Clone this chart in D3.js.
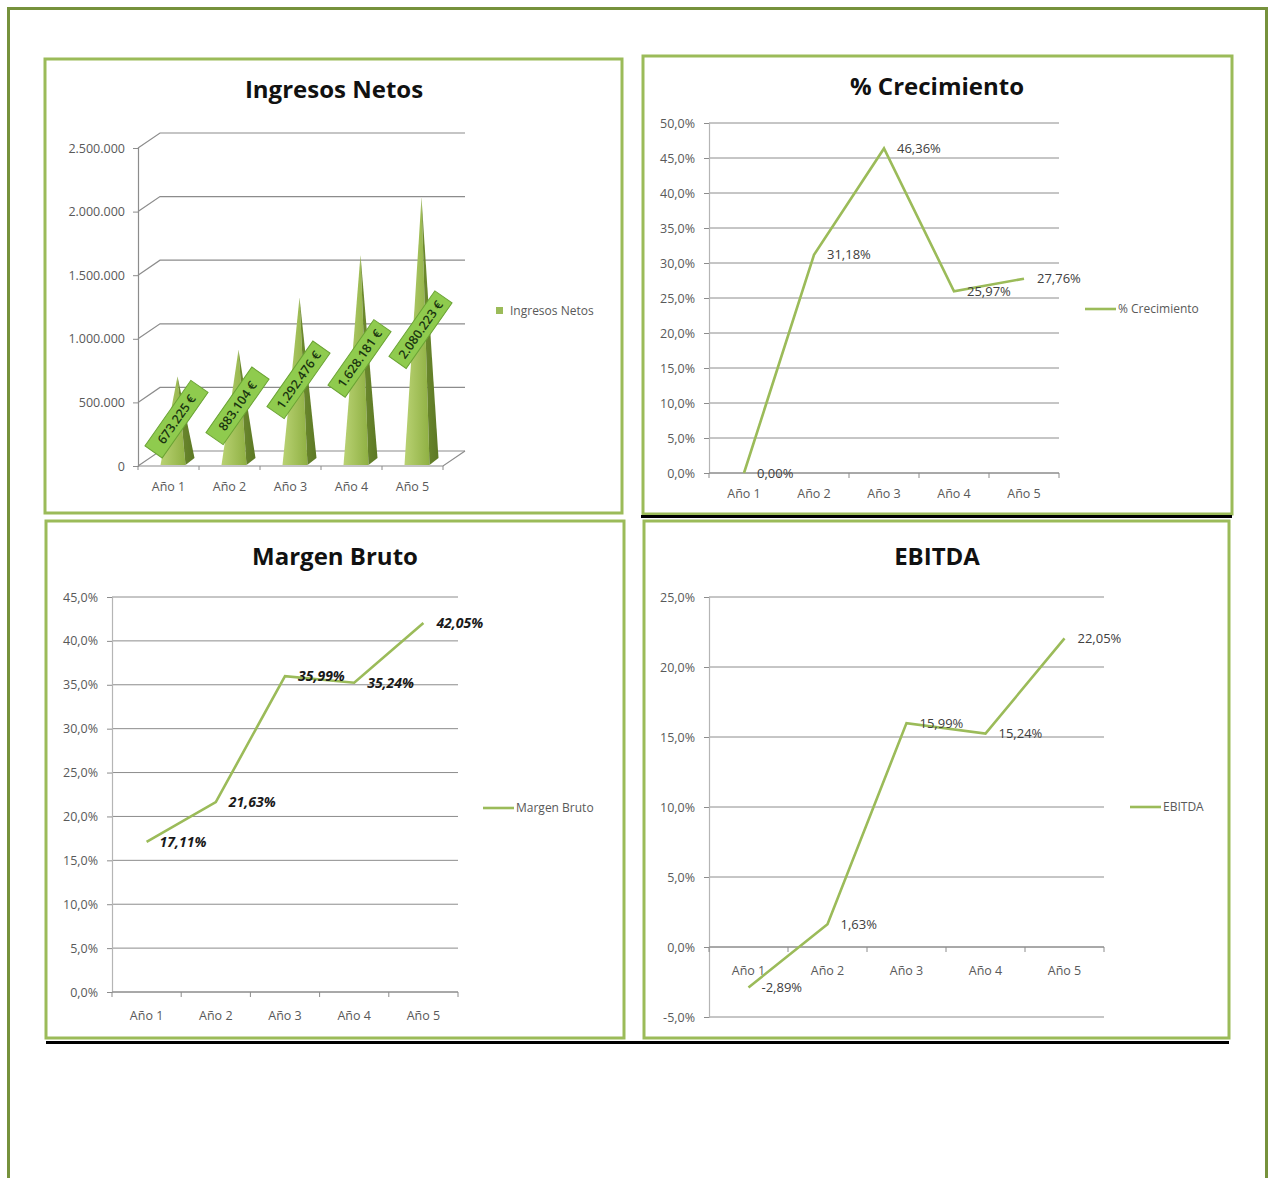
<!DOCTYPE html>
<html>
<head>
<meta charset="utf-8">
<script src="https://cdn.jsdelivr.net/npm/d3@7"></script>
<style>
  body { margin: 0; background: #fff; }
  svg { display: block; }
  text { font-family: "Open Sans", Lato, sans-serif; }
</style>
</head>
<body>
<svg id="chart" width="1268" height="1178"></svg>
<script>
// ---- data ----
const years = ["Año 1", "Año 2", "Año 3", "Año 4", "Año 5"];

const ingresosNetos = [673225, 883104, 1292476, 1628181, 2080223];
const ingresosTicks = [0, 500000, 1000000, 1500000, 2000000, 2500000];

const crecimiento = [0.00, 31.18, 46.36, 25.97, 27.76];
const crecimientoTicks = [0, 5, 10, 15, 20, 25, 30, 35, 40, 45, 50];

const margenBruto = [17.11, 21.63, 35.99, 35.24, 42.05];
const margenTicks = [0, 5, 10, 15, 20, 25, 30, 35, 40, 45];

const ebitda = [-2.89, 1.63, 15.99, 15.24, 22.05];
const ebitdaTicks = [-5, 0, 5, 10, 15, 20, 25];

// ---- Spanish number formatting ----
const es = d3.formatLocale({ decimal: ",", thousands: ".", grouping: [3], currency: ["", " €"], minus: "-" });
const fmtThousands = es.format(",.0f");
const fmtTick = v => es.format(".1f")(v) + "%";
const fmtLabel = v => es.format(".2f")(v) + "%";

const svg = d3.select("#chart");
const GREEN = "#9bbb59";
const GRID = "#8c8c8c";
const AXIS_TXT = "#595959";

// page frame
svg.append("path")
  .attr("d", "M8.5,1178 V8.5 H1266.5 V1178")
  .attr("fill", "none").attr("stroke", "#76923c").attr("stroke-width", 3);

// chart frames
const frames = [
  { x: 45, y: 59, w: 577, h: 454 },
  { x: 643, y: 56, w: 589, h: 458 },
  { x: 46, y: 521, w: 578, h: 517 },
  { x: 644, y: 521, w: 585, h: 517 }
];
svg.selectAll("rect.frame").data(frames).join("rect")
  .attr("class", "frame")
  .attr("x", d => d.x).attr("y", d => d.y)
  .attr("width", d => d.w).attr("height", d => d.h)
  .attr("fill", "#fff").attr("stroke", GREEN).attr("stroke-width", 3);

// black rules under the rows
svg.append("line").attr("x1", 641).attr("x2", 1232).attr("y1", 516.5).attr("y2", 516.5)
  .attr("stroke", "#000").attr("stroke-width", 3);
svg.append("line").attr("x1", 46).attr("x2", 1229).attr("y1", 1042.5).attr("y2", 1042.5)
  .attr("stroke", "#000").attr("stroke-width", 3);

function title(txt, cx, y) {
  svg.append("text").attr("x", cx).attr("y", y).attr("text-anchor", "middle")
    .attr("font-size", 24).attr("font-weight", 700).attr("fill", "#111").text(txt);
}

// ---- Ingresos Netos: 3D pyramid columns ----
(function () {
  const x0 = 138, x1 = 443, depthX = 22, depthY = -15;
  const g = svg.append("g");
  title("Ingresos Netos", 334, 98);

  const x = d3.scaleBand().domain(years).range([x0, x1]);
  const y = d3.scaleLinear().domain([0, 2500000]).range([466, 148]);

  // back wall gridlines and floor
  ingresosTicks.forEach(t => {
    const yy = y(t);
    g.append("path")
      .attr("d", `M${x0},${yy} L${x0 + depthX},${yy + depthY} H${x1 + depthX}`)
      .attr("fill", "none").attr("stroke", GRID).attr("stroke-width", 1.2);
  });
  g.append("path")
    .attr("d", `M${x0},${y(0)} H${x1} L${x1 + depthX},${y(0) + depthY}`)
    .attr("fill", "none").attr("stroke", GRID).attr("stroke-width", 1.2);

  // category tick marks on the floor edge
  d3.range(years.length + 1).forEach(i => {
    const xx = x0 + i * x.step();
    g.append("line").attr("x1", xx).attr("x2", xx).attr("y1", y(0)).attr("y2", y(0) + 4)
      .attr("stroke", GRID);
  });

  // value axis
  const ya = g.append("g").attr("transform", `translate(${x0},0)`)
    .call(d3.axisLeft(y).tickValues(ingresosTicks).tickFormat(fmtThousands).tickSize(5).tickPadding(8));
  ya.select(".domain").attr("stroke", GRID).attr("stroke-width", 1.2);
  ya.selectAll(".tick line").attr("stroke", GRID);
  ya.selectAll("text").attr("font-size", 12.5).attr("fill", AXIS_TXT)
    .attr("font-family", "'Open Sans', sans-serif");

  // category labels
  g.selectAll("text.cat").data(years).join("text")
    .attr("class", "cat")
    .attr("x", d => x(d) + x.bandwidth() / 2).attr("y", 491)
    .attr("text-anchor", "middle").attr("font-size", 12.5).attr("fill", AXIS_TXT).text(d => d);

  // shading for the pyramid faces
  const defs = svg.append("defs");
  const lg = defs.append("linearGradient").attr("id", "pyrFront").attr("x1", 0).attr("x2", 1).attr("y1", 0).attr("y2", 0);
  lg.append("stop").attr("offset", 0).attr("stop-color", "#b9d273");
  lg.append("stop").attr("offset", 1).attr("stop-color", "#8fb043");
  const rg = defs.append("linearGradient").attr("id", "pyrSide").attr("x1", 0).attr("x2", 1).attr("y1", 0).attr("y2", 0);
  rg.append("stop").attr("offset", 0).attr("stop-color", "#6f8c2f");
  rg.append("stop").attr("offset", 1).attr("stop-color", "#5c7825");

  const base = y(0) - 4;
  const pyr = g.selectAll("g.pyr").data(ingresosNetos.map((v, i) => ({ v, cat: years[i] })))
    .join("g").attr("class", "pyr");
  pyr.each(function (d) {
    const cx = x(d.cat) + x.bandwidth() / 2 + 9;
    const ay = y(d.v) - 4;
    const sel = d3.select(this);
    sel.append("path")
      .attr("d", `M${cx},${ay} L${cx - 17},${base + 3} L${cx + 8},${base + 3} Z`)
      .attr("fill", "url(#pyrFront)");
    sel.append("path")
      .attr("d", `M${cx},${ay} L${cx + 8},${base + 3} L${cx + 17},${base - 4} Z`)
      .attr("fill", "url(#pyrSide)");
    // value label
    const ly = (base + ay) / 2;
    const lbl = sel.append("g").attr("transform", `translate(${cx - 1},${ly}) rotate(-55)`);
    lbl.append("rect").attr("x", -40).attr("y", -10.5).attr("width", 80).attr("height", 21)
      .attr("fill", "#8fcb4e").attr("stroke", "#6aa333").attr("stroke-width", 1);
    lbl.append("text").attr("x", 0).attr("y", 0).attr("dy", "0.36em")
      .attr("text-anchor", "middle").attr("font-size", 12.5).attr("font-weight", 600)
      .attr("fill", "#1a3510").text(fmtThousands(d.v) + " €");
  });

  // legend
  g.append("rect").attr("x", 496).attr("y", 307).attr("width", 7).attr("height", 7).attr("fill", GREEN);
  g.append("text").attr("x", 510).attr("y", 311).attr("dy", "0.35em")
    .attr("font-size", 12).attr("fill", AXIS_TXT).text("Ingresos Netos");
})();

// ---- line charts ----
function linePanel(cfg) {
  const g = svg.append("g");
  title(cfg.title, cfg.titleX, cfg.titleY);

  const x = d3.scaleBand().domain(years).range([cfg.x0, cfg.x1]);
  const y = d3.scaleLinear().domain(d3.extent(cfg.ticks)).range([cfg.yBottom, cfg.yTop]);

  // horizontal gridlines
  g.selectAll("line.grid").data(cfg.ticks).join("line")
    .attr("class", "grid")
    .attr("x1", cfg.x0).attr("x2", cfg.x1)
    .attr("y1", d => y(d)).attr("y2", d => y(d))
    .attr("stroke", GRID).attr("stroke-width", 1);

  // value axis
  const ya = g.append("g").attr("transform", `translate(${cfg.x0},0)`)
    .call(d3.axisLeft(y).tickValues(cfg.ticks).tickFormat(fmtTick).tickSize(5).tickPadding(9));
  ya.select(".domain").attr("stroke", "#b5b5b5").attr("stroke-width", 1.2);
  ya.selectAll(".tick line").attr("stroke", GRID);
  ya.selectAll("text").attr("font-size", 12.5).attr("fill", AXIS_TXT)
    .attr("font-family", "'Open Sans', sans-serif");

  // category axis at zero
  const y0 = y(0);
  g.append("line").attr("x1", cfg.x0).attr("x2", cfg.x1).attr("y1", y0).attr("y2", y0)
    .attr("stroke", GRID).attr("stroke-width", 1.2);
  d3.range(years.length + 1).forEach(i => {
    const xx = cfg.x0 + i * x.step();
    g.append("line").attr("x1", xx).attr("x2", xx).attr("y1", y0).attr("y2", y0 + 5)
      .attr("stroke", GRID);
  });
  g.selectAll("text.cat").data(years).join("text")
    .attr("class", "cat")
    .attr("x", d => x(d) + x.bandwidth() / 2).attr("y", y0 + cfg.catOffset)
    .attr("text-anchor", "middle").attr("font-size", 12.5).attr("fill", AXIS_TXT).text(d => d);

  // series line
  const pts = cfg.values.map((v, i) => [x(years[i]) + x.bandwidth() / 2, y(v)]);
  g.append("path").attr("d", d3.line()(pts))
    .attr("fill", "none").attr("stroke", GREEN).attr("stroke-width", 2.6)
    .attr("stroke-linejoin", "miter");

  // value labels to the right of each point
  g.selectAll("text.val").data(cfg.values).join("text")
    .attr("class", "val")
    .attr("x", (d, i) => x(years[i]) + x.bandwidth() / 2 + 13)
    .attr("y", d => y(d)).attr("dy", "0.35em")
    .attr("font-size", cfg.labelSize)
    .attr("font-weight", cfg.labelBold ? 700 : 400)
    .attr("font-style", cfg.labelBold ? "italic" : "normal")
    .attr("fill", cfg.labelBold ? "#1a1a1a" : "#404040")
    .text(d => fmtLabel(d));

  // legend
  g.append("line").attr("x1", cfg.legX).attr("x2", cfg.legX + 31)
    .attr("y1", cfg.legY).attr("y2", cfg.legY)
    .attr("stroke", GREEN).attr("stroke-width", 2.6);
  g.append("text").attr("x", cfg.legX + 33).attr("y", cfg.legY).attr("dy", "0.35em")
    .attr("font-size", 12).attr("fill", AXIS_TXT).text(cfg.title);
}

linePanel({
  title: "% Crecimiento", titleX: 937, titleY: 95,
  values: crecimiento, ticks: crecimientoTicks,
  x0: 709, x1: 1059, yTop: 123, yBottom: 473, catOffset: 25,
  labelSize: 13, labelBold: false, legX: 1085, legY: 309
});

linePanel({
  title: "Margen Bruto", titleX: 335, titleY: 565,
  values: margenBruto, ticks: margenTicks,
  x0: 112, x1: 458, yTop: 597, yBottom: 992, catOffset: 28,
  labelSize: 14, labelBold: true, legX: 483, legY: 808
});

linePanel({
  title: "EBITDA", titleX: 937, titleY: 565,
  values: ebitda, ticks: ebitdaTicks,
  x0: 709, x1: 1104, yTop: 597, yBottom: 1017, catOffset: 28,
  labelSize: 13, labelBold: false, legX: 1130, legY: 807
});
</script>
</body>
</html>
